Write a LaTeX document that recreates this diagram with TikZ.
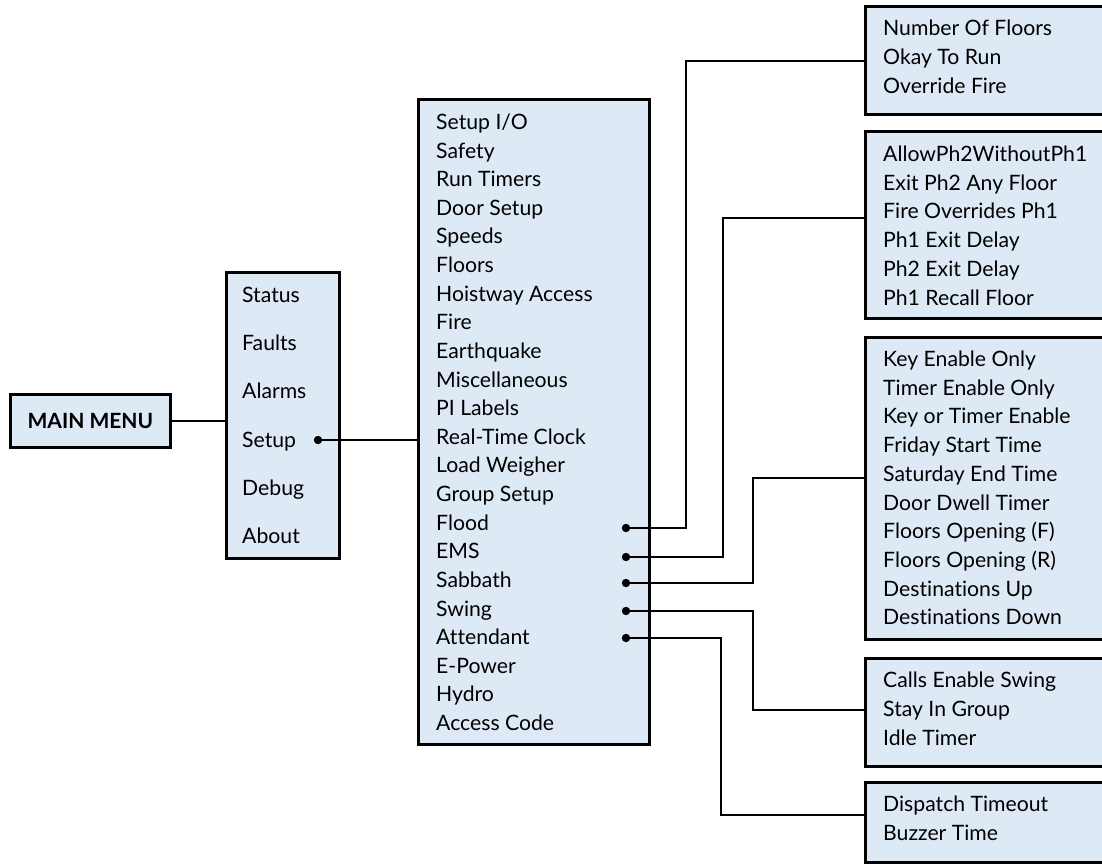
\documentclass[tikz,border=0pt]{standalone}
\usepackage{fontspec}
\setmainfont{Lato}[Ligatures={NoCommon}]
\usetikzlibrary{calc}
\definecolor{boxfill}{RGB}{222,233,246}
\begin{document}
\begin{tikzpicture}[x=1pt,y=-1pt,
  menubox/.style={draw=black, fill=boxfill, line width=2.8pt, inner sep=0pt, anchor=north west},
  item/.style={anchor=base west, inner sep=0pt, font=\fontsize{21.2}{26}\selectfont},
  conn/.style={draw=black, line width=2.2pt},
  dotmark/.style={fill=black}]
\useasboundingbox (0,0) rectangle (1102,863);
% boxes
\node[menubox, minimum width=160, minimum height=53] (mm) at (9,393) {};
\node[menubox, minimum width=113, minimum height=286] (main) at (225,271) {};
\node[menubox, minimum width=231, minimum height=645] (setup) at (417,98) {};
\node[menubox, minimum width=244, minimum height=108] (b1) at (864,5) {};
\node[menubox, minimum width=244, minimum height=187] (b2) at (864,130) {};
\node[menubox, minimum width=244, minimum height=302] (b3) at (864,336) {};
\node[menubox, minimum width=244, minimum height=108] (b4) at (864,657) {};
\node[menubox, minimum width=244, minimum height=80] (b5) at (864,781) {};
% bend points and dots
\coordinate (dsetup) at (318,440);
\coordinate (dflood) at (626,528);
\coordinate (dems) at (626,557);
\coordinate (dsab) at (626,583);
\coordinate (dswing) at (626,611);
\coordinate (datt) at (626,638);
\coordinate (k1) at (686,61);
\coordinate (k2) at (723,218);
\coordinate (k3) at (753,478);
\coordinate (k4) at (753,710);
\coordinate (k5) at (721,815);
% connectors
\draw[conn] (mm.east) -- (mm.east -| main.west);
\draw[conn] (dsetup) -- (dsetup -| setup.west);
\draw[conn] (dflood) -| (k1) -- (k1 -| b1.west);
\draw[conn] (dems) -| (k2) -- (k2 -| b2.west);
\draw[conn] (dsab) -| (k3) -- (k3 -| b3.west);
\draw[conn] (dswing) -| (k4) -- (k4 -| b4.west);
\draw[conn] (datt) -| (k5) -- (k5 -| b5.west);
\foreach \d in {dsetup,dflood,dems,dsab,dswing,datt}
  \fill[dotmark] (\d) circle (4.2);
% texts
\node[anchor=center, inner sep=0pt, font=\fontsize{21}{25}\bfseries\selectfont] (mmtext) at (mm.center) {MAIN MENU};
\foreach \t [count=\i from 0] in {Status,Faults,Alarms,Setup,Debug,About}
  \node[item] (m\i) at (242,302.5+48.2*\i) {\t};
\foreach \t [count=\i from 0] in {Setup I/O,Safety,Run Timers,Door Setup,Speeds,Floors,Hoistway Access,Fire,Earthquake,Miscellaneous,PI Labels,Real-Time Clock,Load Weigher,Group Setup,Flood,EMS,Sabbath,Swing,Attendant,E-Power,Hydro,Access Code}
  \node[item] (s\i) at (436,129.5+28.62*\i) {\t};
\foreach \t [count=\i from 0] in {Number Of Floors,Okay To Run,Override Fire}
  \node[item] (a\i) at (883,35.5+29*\i) {\t};
\foreach \t [count=\i from 0] in {AllowPh2WithoutPh1,Exit Ph2 Any Floor,Fire Overrides Ph1,Ph1 Exit Delay,Ph2 Exit Delay,Ph1 Recall Floor}
  \node[item] (b\i) at (883,161.5+28.7*\i) {\t};
\foreach \t [count=\i from 0] in {Key Enable Only,Timer Enable Only,Key or Timer Enable,Friday Start Time,Saturday End Time,Door Dwell Timer,Floors Opening (F),Floors Opening (R),Destinations Up,Destinations Down}
  \node[item] (c\i) at (883,366.5+28.7*\i) {\t};
\foreach \t [count=\i from 0] in {Calls Enable Swing,Stay In Group,Idle Timer}
  \node[item] (d\i) at (883,687.5+29*\i) {\t};
\foreach \t [count=\i from 0] in {Dispatch Timeout,Buzzer Time}
  \node[item] (e\i) at (883,811.5+29*\i) {\t};
\end{tikzpicture}
\end{document}
